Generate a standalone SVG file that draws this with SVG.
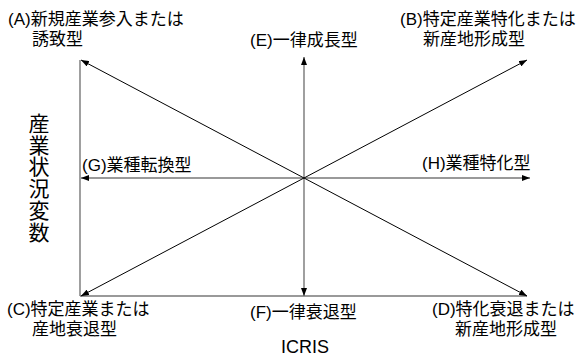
<svg xmlns="http://www.w3.org/2000/svg" width="587" height="358" viewBox="0 0 587 358">
<style>
text{font-family:"Liberation Sans","Noto Sans CJK JP",sans-serif;font-size:17px;fill:#000}
.axis{stroke:#777;stroke-width:1.4;fill:none}
.diag{stroke:#000;stroke-width:1;fill:none}
.vlabel{font-size:21px}
.icris{font-size:18px}
</style>
<defs>
<marker id="ah" markerUnits="userSpaceOnUse" markerWidth="8" markerHeight="6" refX="8" refY="3" orient="auto-start-reverse">
<path d="M0,0 L8,3 L0,6 z" fill="#000"/>
</marker>
</defs>
<g id="connectors">
<line class="axis" x1="80" y1="60" x2="80" y2="296"/>
<line class="axis" x1="80" y1="296" x2="527" y2="296"/>
<line class="axis" x1="304" y1="57" x2="304" y2="296" marker-start="url(#ah)" marker-end="url(#ah)"/>
<line class="axis" x1="81" y1="178" x2="530" y2="178" marker-start="url(#ah)" marker-end="url(#ah)"/>
<line class="diag" x1="81" y1="60" x2="527" y2="296" marker-start="url(#ah)" marker-end="url(#ah)"/>
<line class="diag" x1="527" y1="60" x2="81" y2="296" marker-start="url(#ah)" marker-end="url(#ah)"/>
</g>
<g id="nodeA"><text x="8" y="25">(A)新規産業参入または</text><text x="32" y="45">誘致型</text></g>
<g id="nodeB"><text x="400" y="25">(B)特定産業特化または</text><text x="423" y="45">新産地形成型</text></g>
<g id="nodeE"><text x="250" y="46">(E)一律成長型</text></g>
<g id="nodeG"><text x="82" y="171">(G)業種転換型</text></g>
<g id="nodeH"><text x="422" y="169">(H)業種特化型</text></g>
<g id="nodeC"><text x="7" y="315">(C)特定産業または</text><text x="32" y="335">産地衰退型</text></g>
<g id="nodeD"><text x="432" y="315">(D)特化衰退または</text><text x="455" y="335">新産地形成型</text></g>
<g id="nodeF"><text x="250" y="318">(F)一律衰退型</text></g>
<g id="xlabel"><text class="icris" x="305" y="353" text-anchor="middle">ICRIS</text></g>
<g id="ylabel"><text class="vlabel" text-anchor="middle"><tspan x="39" y="131">産</tspan><tspan x="39" y="152.7">業</tspan><tspan x="39" y="174.4">状</tspan><tspan x="39" y="196.1">況</tspan><tspan x="39" y="217.8">変</tspan><tspan x="39" y="239.5">数</tspan></text></g>
</svg>
